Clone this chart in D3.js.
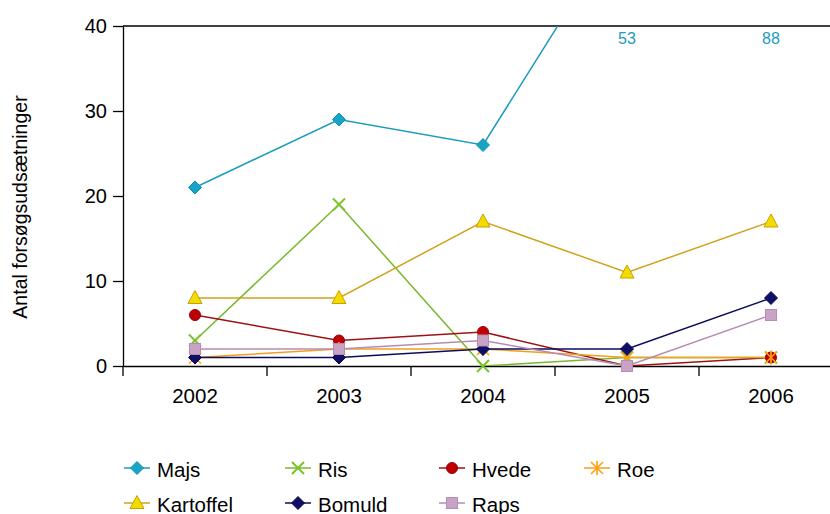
<!DOCTYPE html>
<html>
<head>
<meta charset="utf-8">
<script src="https://cdn.jsdelivr.net/npm/d3@7/dist/d3.min.js"></script>
<style>
  html, body { margin: 0; padding: 0; background: #fff; }
  svg { display: block; font-family: "Liberation Sans", Arial, Helvetica, sans-serif; }
</style>
</head>
<body>
<svg id="chart" width="830" height="514"></svg>
<script>
// Trial plantings per crop and year
const years = ["2002", "2003", "2004", "2005", "2006"];
const yTicks = [0, 10, 20, 30, 40];

const majs      = [21, 29, 26, 53, 88];
const ris       = [3, 19, 0, 1, 1];
const hvede     = [6, 3, 4, 0, 1];
const roe       = [1, 2, 2, 1, 1];
const kartoffel = [8, 8, 17, 11, 17];
const bomuld    = [1, 1, 2, 2, 8];
const raps      = [2, 2, 3, 0, 6];

const series = [
  { name: "Majs",      values: majs,      line: "#1b9cbc", fill: "#18a4c4", stroke: "#1390ae", shape: "diamond" },
  { name: "Ris",       values: ris,       line: "#78b82a", fill: "none",    stroke: "#7cc22a", shape: "cross" },
  { name: "Hvede",     values: hvede,     line: "#9e1116", fill: "#c00000", stroke: "#900010", shape: "circle" },
  { name: "Roe",       values: roe,       line: "#f59e1c", fill: "none",    stroke: "#ffa10f", shape: "asterisk" },
  { name: "Kartoffel", values: kartoffel, line: "#d1a21c", fill: "#f2dc00", stroke: "#c9a000", shape: "triangle" },
  { name: "Bomuld",    values: bomuld,    line: "#0c0c5c", fill: "#0f0f66", stroke: "#0a0a50", shape: "diamond" },
  { name: "Raps",      values: raps,      line: "#b58cb2", fill: "#c9a3c6", stroke: "#b58cb2", shape: "square" }
];

const svg = d3.select("#chart");
const pLeft = 123, pTop = 26, pBottom = 366, pRight = 843;

const x = d3.scaleBand().domain(years).range([pLeft, pRight]);
const y = d3.scaleLinear().domain([0, 40]).range([pBottom, pTop]);
const cx = d => x(d) + x.bandwidth() / 2;

// clip region for the plot
svg.append("defs").append("clipPath").attr("id", "plot")
  .append("rect").attr("x", pLeft).attr("y", pTop).attr("width", pRight - pLeft).attr("height", pBottom - pTop);

// top frame line
svg.append("line").attr("x1", pLeft).attr("x2", pRight).attr("y1", pTop).attr("y2", pTop)
  .attr("stroke", "#000").attr("stroke-width", 1.3);

// y axis
const yAxis = svg.append("g").attr("transform", `translate(${pLeft},0)`)
  .call(d3.axisLeft(y).tickValues(yTicks).tickSize(10).tickPadding(6).tickSizeOuter(0));
yAxis.select(".domain").attr("stroke-width", 1.3);
yAxis.selectAll(".tick line").attr("stroke-width", 1.3);
yAxis.selectAll("text").attr("font-size", 20).attr("fill", "#000").attr("font-family", "Liberation Sans, Arial, sans-serif");

// x axis
const xAxis = svg.append("g").attr("transform", `translate(0,${pBottom})`)
  .call(d3.axisBottom(x).tickSize(0).tickPadding(22));
xAxis.select(".domain").attr("stroke-width", 1.3);
xAxis.selectAll("text").attr("font-size", 20.5).attr("fill", "#000").attr("font-family", "Liberation Sans, Arial, sans-serif");
// category boundary ticks
svg.append("g").selectAll("line").data(years.concat(["end"])).join("line")
  .attr("x1", (d, i) => pLeft + i * x.bandwidth()).attr("x2", (d, i) => pLeft + i * x.bandwidth())
  .attr("y1", pBottom).attr("y2", pBottom + 10)
  .attr("stroke", "#000").attr("stroke-width", 1.3);

// y axis title
svg.append("text")
  .attr("transform", `translate(27,207) rotate(-90)`)
  .attr("text-anchor", "middle").attr("font-size", 19.5).attr("fill", "#000")
  .text("Antal forsøgsudsætninger");

function drawMarker(g, shape, s) {
  if (shape === "diamond") {
    g.append("path").attr("d", "M0,-6.5L6.5,0L0,6.5L-6.5,0Z")
      .attr("fill", s.fill).attr("stroke", s.stroke).attr("stroke-width", 1);
  } else if (shape === "circle") {
    g.append("circle").attr("r", 5.5).attr("fill", s.fill).attr("stroke", s.stroke).attr("stroke-width", 1);
  } else if (shape === "triangle") {
    g.append("path").attr("d", "M0,-7.5L7,5.5L-7,5.5Z")
      .attr("fill", s.fill).attr("stroke", s.stroke).attr("stroke-width", 1);
  } else if (shape === "square") {
    g.append("rect").attr("x", -5.5).attr("y", -5.5).attr("width", 11).attr("height", 11)
      .attr("fill", s.fill).attr("stroke", s.stroke).attr("stroke-width", 1);
  } else if (shape === "cross") {
    g.append("path").attr("d", "M-6,-6L6,6M-6,6L6,-6")
      .attr("fill", "none").attr("stroke", s.stroke).attr("stroke-width", 2);
  } else if (shape === "asterisk") {
    g.append("path").attr("d", "M-6,-6L6,6M-6,6L6,-6M0,-7L0,7")
      .attr("fill", "none").attr("stroke", s.stroke).attr("stroke-width", 1.6);
  }
}

const line = d3.line().x((d, i) => cx(years[i])).y(d => y(d));
const plot = svg.append("g").attr("clip-path", "url(#plot)");

series.forEach(s => {
  plot.append("path").datum(s.values).attr("d", line)
    .attr("fill", "none").attr("stroke", s.line).attr("stroke-width", 1.5);
});
series.forEach(s => {
  s.values.forEach((v, i) => {
    if (v > 40) return;
    const g = svg.append("g").attr("transform", `translate(${cx(years[i])},${y(v)})`);
    drawMarker(g, s.shape, s);
  });
});

// values beyond the axis range are written at the top of the plot
majs.forEach((v, i) => {
  if (v <= 40) return;
  svg.append("text").attr("x", cx(years[i])).attr("y", pTop + 18)
    .attr("text-anchor", "middle").attr("font-size", 16).attr("fill", "#1b9cbc")
    .text(v);
});

// legend
const legendCols = [124, 285, 439, 584];
const legendRows = [468, 503];
series.forEach((s, i) => {
  const lx = legendCols[i % 4], ly = legendRows[Math.floor(i / 4)];
  const g = svg.append("g").attr("transform", `translate(${lx},${ly})`);
  g.append("line").attr("x1", 0).attr("x2", 26).attr("stroke", s.line).attr("stroke-width", 1.5);
  drawMarker(g.append("g").attr("transform", "translate(13,0)"), s.shape, s);
  g.append("text").attr("x", 33).attr("y", 8.5).attr("font-size", 20.5).attr("fill", "#000").text(s.name);
});
</script>
</body>
</html>
